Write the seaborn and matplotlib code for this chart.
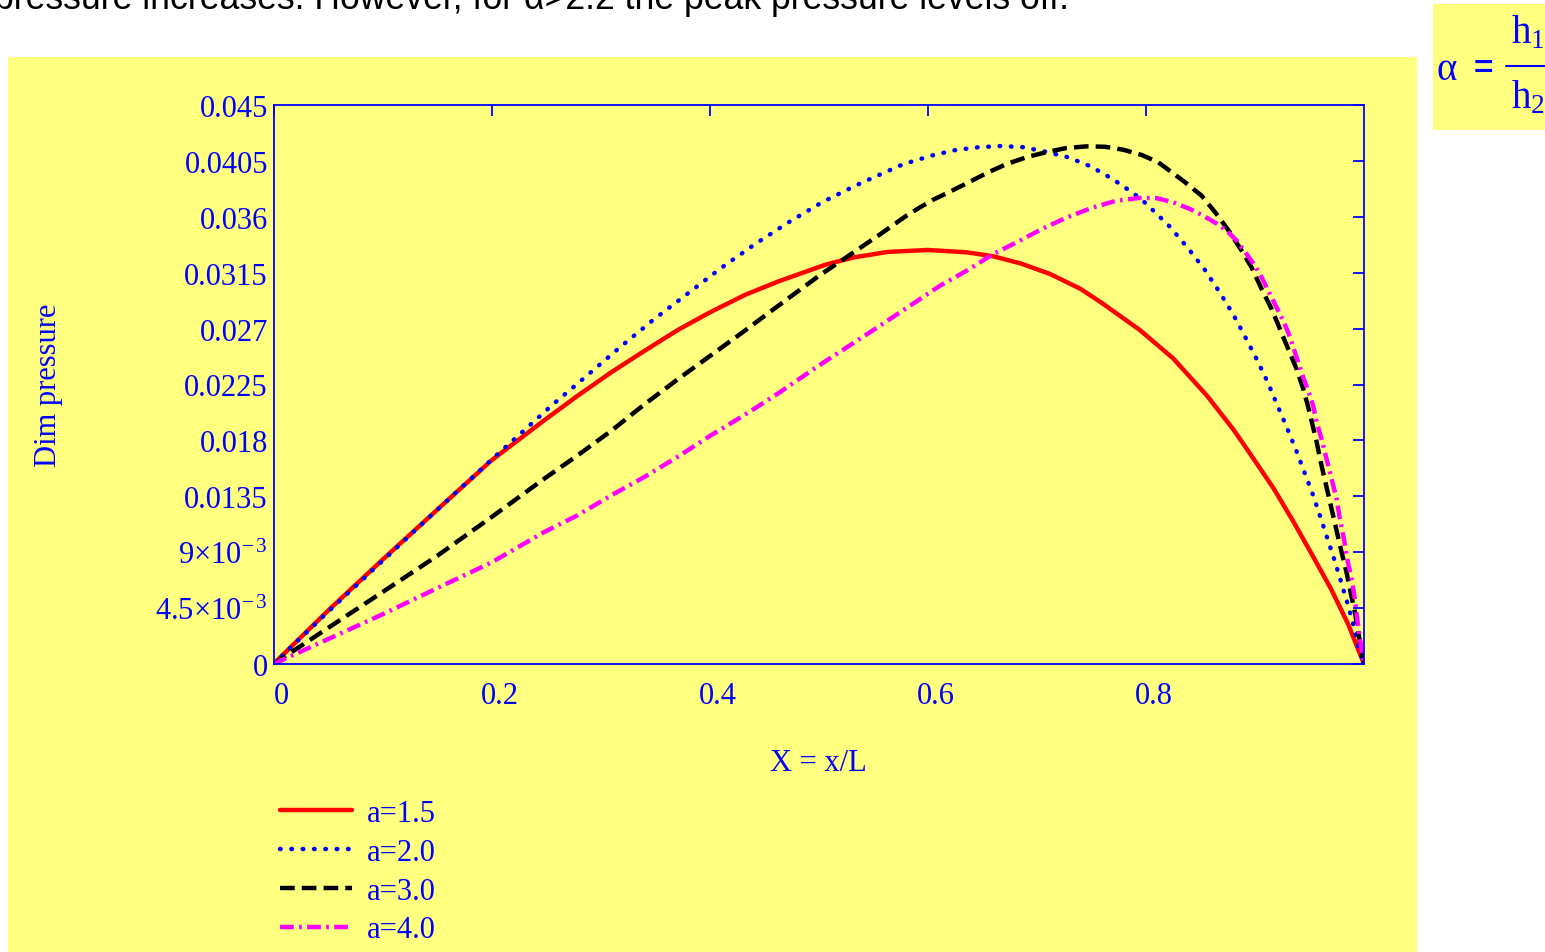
import matplotlib
matplotlib.use("Agg")
import matplotlib.pyplot as plt
import matplotlib.transforms as mtransforms
from matplotlib.patches import Rectangle
from matplotlib.lines import Line2D
import seaborn as sns

# values (X = x/L, dimensionless pressure)
x_a15 = [0, 0.051, 0.102, 0.153, 0.200, 0.248, 0.279, 0.310, 0.340, 0.371, 0.400, 0.432,
         0.463, 0.506, 0.532, 0.563, 0.600, 0.636, 0.660, 0.685, 0.712, 0.740, 0.759,
         0.7945, 0.825, 0.856, 0.880, 0.895, 0.917, 0.935, 0.953, 0.970, 0.9855, 1.0]
p_a15 = [0, 0.00438, 0.00856, 0.01265, 0.0164, 0.0196, 0.0216, 0.0235, 0.0252, 0.0269,
         0.0283, 0.0297, 0.0308, 0.03214, 0.03273, 0.03317, 0.03333, 0.03314, 0.03282,
         0.03225, 0.03140, 0.03020, 0.0291, 0.02688, 0.02460, 0.0216, 0.01890, 0.01700,
         0.01415, 0.01150, 0.0087, 0.0060, 0.0032, 0]

x_a20 = [0, 0.05, 0.10, 0.15, 0.20, 0.2561, 0.2868, 0.3175, 0.3482, 0.3804, 0.4110, 0.4417,
         0.4724, 0.5031, 0.5336, 0.5744, 0.5852, 0.6056, 0.6258, 0.6466, 0.6671, 0.6875,
         0.7081, 0.7288, 0.7493, 0.7695, 0.7899, 0.8006, 0.8211, 0.8385, 0.8541, 0.8679,
         0.8804, 0.8914, 0.902, 0.9116, 0.9204, 0.929, 0.9376, 0.9452, 0.9529, 0.9599,
         0.9666, 0.9733, 0.9795, 0.9855, 0.9911, 0.9956, 1.0]
p_a20 = [0, 0.0042, 0.0083, 0.0124, 0.01645, 0.02089, 0.02317, 0.02548, 0.0277, 0.02986,
         0.03191, 0.03381, 0.03556, 0.03717, 0.03851, 0.04012, 0.04044, 0.04098, 0.04138,
         0.0416, 0.0417, 0.0416, 0.04124, 0.04079, 0.04006, 0.03904, 0.03781, 0.03703,
         0.03528, 0.03349, 0.03172, 0.02989, 0.02809, 0.02627, 0.02447, 0.0227, 0.02087,
         0.01909, 0.01725, 0.01548, 0.01369, 0.01186, 0.01006, 0.00827, 0.00646, 0.00469,
         0.0029, 0.00115, 0]

x_a30 = [0, 0.05, 0.10, 0.15, 0.20, 0.248, 0.279, 0.310, 0.340, 0.371, 0.400, 0.432, 0.463,
         0.501, 0.5196, 0.538, 0.5564, 0.5806, 0.5928, 0.605, 0.6203, 0.6387, 0.6554, 0.6723,
         0.6921, 0.7105, 0.7273, 0.7457, 0.7624, 0.7792, 0.7961, 0.8113, 0.8342, 0.8511,
         0.8648, 0.877, 0.8878, 0.8969, 0.9061, 0.9153, 0.9229, 0.9305, 0.9382, 0.9443,
         0.9488, 0.9565, 0.9611, 0.9657, 0.9703, 0.9749, 0.9795, 0.984, 0.9877, 0.9917,
         0.9947, 1.0]
p_a30 = [0, 0.0029, 0.00579, 0.0087, 0.01183, 0.0149, 0.0168, 0.01879, 0.02089, 0.02294,
         0.02478, 0.02682, 0.02885, 0.0313, 0.0324, 0.0335, 0.0346, 0.0361, 0.03676, 0.03738,
         0.03802, 0.03883, 0.03958, 0.04025, 0.04084, 0.04124, 0.04154, 0.04167, 0.04164,
         0.0414, 0.04098, 0.04039, 0.0389, 0.0377, 0.03622, 0.03475, 0.03327, 0.03193,
         0.03019, 0.02858, 0.02697, 0.02536, 0.02375, 0.02214, 0.0207, 0.01790, 0.01596,
         0.01422, 0.01248, 0.01073, 0.00899, 0.00738, 0.00577, 0.00416, 0.00255, 0]

x_a40 = [0, 0.05, 0.10, 0.15, 0.20, 0.248, 0.279, 0.310, 0.340, 0.371, 0.400, 0.432, 0.463,
         0.501, 0.5476, 0.5902, 0.6112, 0.6356, 0.66, 0.6815, 0.7059, 0.7273, 0.7517,
         0.7731, 0.7945, 0.8098, 0.825, 0.8404, 0.8526, 0.8648, 0.874, 0.8832, 0.8923, 0.9,
         0.9061, 0.9122, 0.9183, 0.9244, 0.9305, 0.9351, 0.9397, 0.9443, 0.9488, 0.9534,
         0.9565, 0.9611, 0.9657, 0.9703, 0.9749, 0.9779, 0.9816, 0.9846, 0.9886, 0.9917,
         0.9938, 0.9962, 1.0]
p_a40 = [0, 0.0020, 0.0040, 0.0061, 0.00818, 0.01061, 0.01198, 0.01359, 0.01505, 0.01670,
         0.01835, 0.02005, 0.02180, 0.02408, 0.02674, 0.02922, 0.03045, 0.03166, 0.033,
         0.03395, 0.03507, 0.03594, 0.03676, 0.0373, 0.03752, 0.0375, 0.03717, 0.03663,
         0.03609, 0.03546, 0.03490, 0.03408, 0.03301, 0.03206, 0.03113, 0.03005, 0.02898,
         0.02791, 0.0267, 0.0255, 0.02429, 0.02308, 0.022, 0.02079, 0.0195, 0.01811, 0.0165,
         0.01489, 0.01328, 0.01167, 0.01006, 0.00845, 0.00684, 0.00523, 0.00362, 0.00201, 0]

series_labels = ["a=1.5", "a=2.0", "a=3.0", "a=4.0"]
x_ticks = [0, 0.2, 0.4, 0.6, 0.8]
x_tick_labels = ["0", "0.2", "0.4", "0.6", "0.8"]
y_ticks = [0, 0.0045, 0.009, 0.0135, 0.018, 0.0225, 0.027, 0.0315, 0.036, 0.0405, 0.045]
y_tick_labels = ["0", r"$\mathregular{4.5{\times}10^{-\,3}}$", r"$\mathregular{9{\times}10^{-\,3}}$",
                 "0.0135", "0.018", "0.0225", "0.027", "0.0315", "0.036", "0.0405", "0.045"]

sns.set_style("white")
plt.rcParams['font.family'] = ['Liberation Serif', 'DejaVu Serif']
plt.rcParams['mathtext.fontset'] = 'custom'
plt.rcParams['mathtext.rm'] = 'Liberation Serif'
plt.rcParams['mathtext.it'] = 'Liberation Serif:italic'

yellow = '#FFFF80'
blue = '#0000FF'
W, H = 1545, 953

fig = plt.figure(figsize=(15.45, 9.53), dpi=100)
fig.patch.set_facecolor('white')
# yellow panel behind the plot and the small formula box
fig.patches.append(Rectangle((8 / W, 0), 1409 / W, 895 / H, transform=fig.transFigure,
                             facecolor=yellow, edgecolor='none', zorder=-10))
fig.patches.append(Rectangle((1433 / W, 1 - 131 / H), 112 / W, 126 / H, transform=fig.transFigure,
                             facecolor=yellow, edgecolor='none', zorder=-10))

ax = fig.add_axes([273.5 / W, 1 - 665 / H, 1090.5 / W, 559 / H])
ax.set_facecolor(yellow)

lw = 3.2
sns.lineplot(x=x_a15, y=p_a15, ax=ax, color='#FF0000', linewidth=lw, label=series_labels[0])
sns.lineplot(x=x_a20, y=p_a20, ax=ax, color=blue, linewidth=lw, linestyle=(0, (0.15, 2.4)),
             dash_capstyle='round', label=series_labels[1])
sns.lineplot(x=x_a30, y=p_a30, ax=ax, color='black', linewidth=lw, linestyle=(0, (3.3, 1.6)),
             label=series_labels[2])
sns.lineplot(x=x_a40, y=p_a40, ax=ax, color='#FF00FF', linewidth=lw,
             linestyle=(0, (3.1, 1.2, 0.6, 1.2)), label=series_labels[3])

ax.set_xlim(0, 1)
ax.set_ylim(0, 0.045)
ax.set_xticks(x_ticks)
ax.set_xticklabels(x_tick_labels)
ax.set_yticks(y_ticks)
ax.set_yticklabels(y_tick_labels)
ax.tick_params(direction='in', length=8, width=1.3, color=blue, labelcolor=blue,
               labelsize=22, top=True, right=True)
ax.tick_params(axis='x', pad=12)
ax.tick_params(axis='y', pad=4)
# x labels sit a little to the right of their ticks in the original
shift = mtransforms.ScaledTranslation(8 / 100, 0, fig.dpi_scale_trans)
for lab in ax.get_xticklabels():
    lab.set_transform(lab.get_transform() + shift)
for s in ax.spines.values():
    s.set_color(blue)
    s.set_linewidth(1.3)

ax.set_xlabel("X = x/L", fontsize=22, color=blue)
ax.xaxis.set_label_coords(0.5, -0.15)
ax.set_ylabel("Dim pressure", fontsize=22, color=blue)
ax.yaxis.set_label_coords(-0.193, 0.5)

handles, labels = ax.get_legend_handles_labels()
ax.legend(handles, labels, loc='upper left', bbox_to_anchor=(280 / W, 1 - 800 / H),
          bbox_transform=fig.transFigure, frameon=False, fontsize=22, labelcolor=blue,
          handlelength=2.35, handletextpad=0.5, labelspacing=0.32, borderpad=0,
          borderaxespad=0)

# cut-off sentence at the top of the page
fig.text(-6 / W, 1 - 9 / H, "pressure increases. However, for \u03b1>2.2 the peak pressure levels off.",
         family=['Liberation Sans', 'DejaVu Sans'], fontsize=25.7, color='black', va='baseline')

# alpha = h1 / h2 box
fig.text(1436 / W, 1 - 70 / H, "\u03b1", fontsize=28, color=blue, va='center')
fig.text(1474 / W, 1 - 70 / H, "=", fontsize=24, color=blue, va='center', weight='bold',
         family=['Liberation Sans', 'DejaVu Sans'])
fig.text(1511 / W, 1 - 33 / H, r"$\mathregular{h_1}$", fontsize=28, color=blue, va='center')
fig.text(1511 / W, 1 - 98 / H, r"$\mathregular{h_2}$", fontsize=28, color=blue, va='center')
fig.lines.append(Line2D([1506 / W, 1545 / W], [1 - 67 / H, 1 - 67 / H], transform=fig.transFigure,
                        color=blue, lw=1.5))

fig.savefig("out.png", dpi=100)
